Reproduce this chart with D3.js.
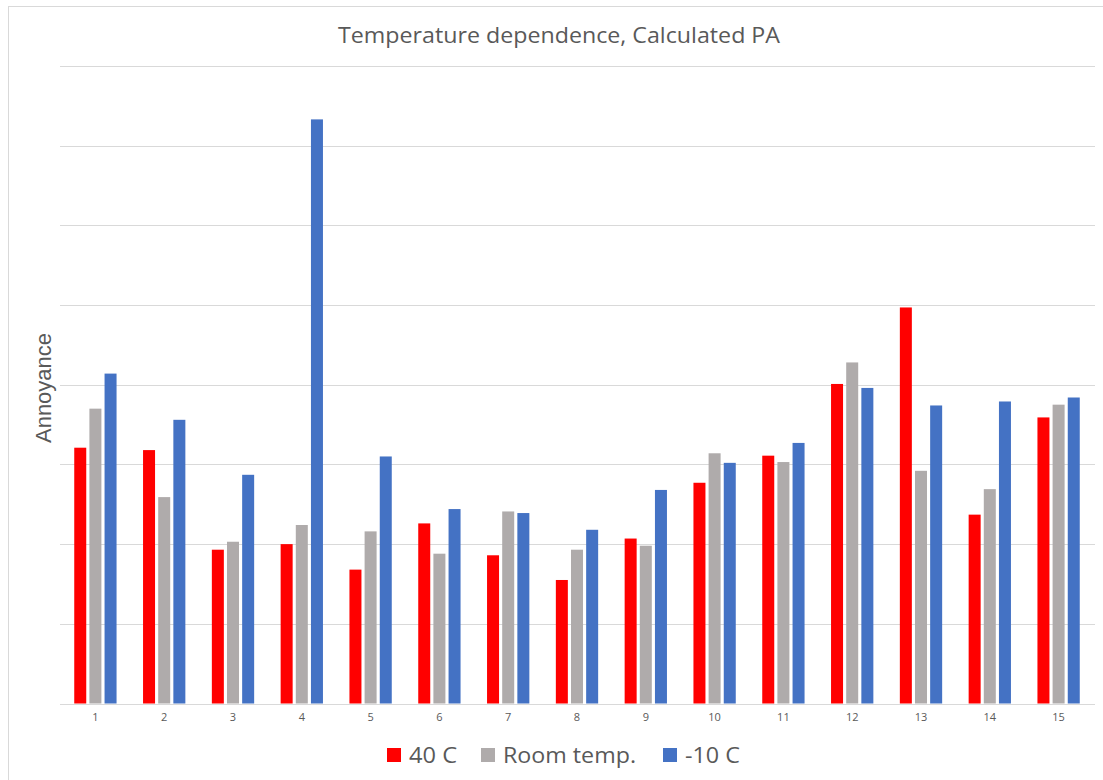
<!DOCTYPE html>
<html>
<head>
<meta charset="utf-8">
<script src="https://cdn.jsdelivr.net/npm/d3@7/dist/d3.min.js"></script>
<style>
  html, body { margin: 0; padding: 0; background: #fff; }
  svg { display: block; }
  text { font-family: "Open Sans", "Noto Sans", sans-serif; fill: #595959; }
</style>
</head>
<body>
<svg id="chart" width="1103" height="780"></svg>
<script>
// Categories (test cases 1..15)
const categories = ["1","2","3","4","5","6","7","8","9","10","11","12","13","14","15"];

// Series names and colours
const seriesNames = ["40 C", "Room temp.", "-10 C"];
const seriesColors = ["#FF0000", "#AFABAB", "#4472C4"];

// Annoyance values per series (in gridline units)
const hot40C   = [3.21, 3.18, 1.93, 2.00, 1.68, 2.26, 1.86, 1.55, 2.07, 2.77, 3.11, 4.01, 4.97, 2.37, 3.59];
const roomTemp = [3.70, 2.59, 2.03, 2.24, 2.16, 1.88, 2.41, 1.93, 1.98, 3.14, 3.03, 4.28, 2.92, 2.69, 3.75];
const cold10C  = [4.14, 3.56, 2.87, 7.33, 3.10, 2.44, 2.39, 2.18, 2.68, 3.02, 3.27, 3.96, 3.74, 3.79, 3.84];

// Gridline positions on the value axis
const gridTicks = [0, 1, 2, 3, 4, 5, 6, 7, 8];

const seriesValues = [hot40C, roomTemp, cold10C];

const svg = d3.select("#chart");

// Chart frame
svg.append("rect")
  .attr("x", 8.5).attr("y", 6.5)
  .attr("width", 1103).attr("height", 790)
  .attr("fill", "#fff")
  .attr("stroke", "#d9d9d9")
  .attr("stroke-width", 1);

const plot = { left: 61, right: 1093, top: 66, bottom: 703.5 };

const x0 = d3.scaleBand()
  .domain(categories)
  .range([plot.left, plot.right])
  .paddingInner(0.385)
  .paddingOuter(0.1925);

const x1 = d3.scaleBand()
  .domain(seriesNames)
  .range([0, x0.bandwidth()])
  .paddingInner(0.208);

const y = d3.scaleLinear()
  .domain([0, 8])
  .range([plot.bottom, plot.top]);

// Horizontal gridlines
svg.append("g")
  .selectAll("line")
  .data(gridTicks)
  .join("line")
  .attr("x1", plot.left - 1)
  .attr("x2", plot.right + 2)
  .attr("y1", d => Math.round(y(d)) + 0.5)
  .attr("y2", d => Math.round(y(d)) + 0.5)
  .attr("stroke", "#d9d9d9")
  .attr("stroke-width", 1.2);

// Bars
const groups = svg.append("g")
  .selectAll("g")
  .data(categories)
  .join("g")
  .attr("transform", d => `translate(${x0(d)},0)`);

groups.selectAll("rect")
  .data((d, i) => seriesNames.map((s, k) => ({ series: s, k, value: seriesValues[k][i] })))
  .join("rect")
  .attr("x", d => x1(d.series))
  .attr("width", x1.bandwidth())
  .attr("y", d => y(d.value))
  .attr("height", d => y(0) - y(d.value))
  .attr("fill", d => seriesColors[d.k]);

// Category axis
const xAxis = svg.append("g")
  .attr("transform", `translate(0,${plot.bottom})`)
  .call(d3.axisBottom(x0).tickSize(0).tickPadding(10));
xAxis.select(".domain").remove();
xAxis.selectAll("text")
  .style("font-family", "'Open Sans', sans-serif")
  .style("font-size", "11px")
  .attr("fill", "#595959");

// Title
svg.append("text")
  .attr("x", 559)
  .attr("y", 43)
  .attr("text-anchor", "middle")
  .attr("textLength", 442)
  .attr("lengthAdjust", "spacingAndGlyphs")
  .style("font-size", "21px")
  .text("Temperature dependence, Calculated PA");

// Value axis title
svg.append("text")
  .attr("transform", "translate(51,388) rotate(-90)")
  .attr("text-anchor", "middle")
  .attr("textLength", 110)
  .attr("lengthAdjust", "spacingAndGlyphs")
  .style("font-family", "'Liberation Sans', Arial, sans-serif")
  .style("font-size", "22px")
  .text("Annoyance");

// Legend
const legendX = [387, 481, 663];
const legendW = [48, 133, 55];
const legend = svg.append("g")
  .selectAll("g")
  .data(seriesNames)
  .join("g")
  .attr("transform", (d, i) => `translate(${legendX[i]},748)`);
legend.append("rect")
  .attr("width", 14).attr("height", 14)
  .attr("fill", (d, i) => seriesColors[i]);
legend.append("text")
  .attr("x", 22)
  .attr("y", 15)
  .attr("textLength", (d, i) => legendW[i])
  .attr("lengthAdjust", "spacingAndGlyphs")
  .style("font-size", "21px")
  .text(d => d);
</script>
</body>
</html>
